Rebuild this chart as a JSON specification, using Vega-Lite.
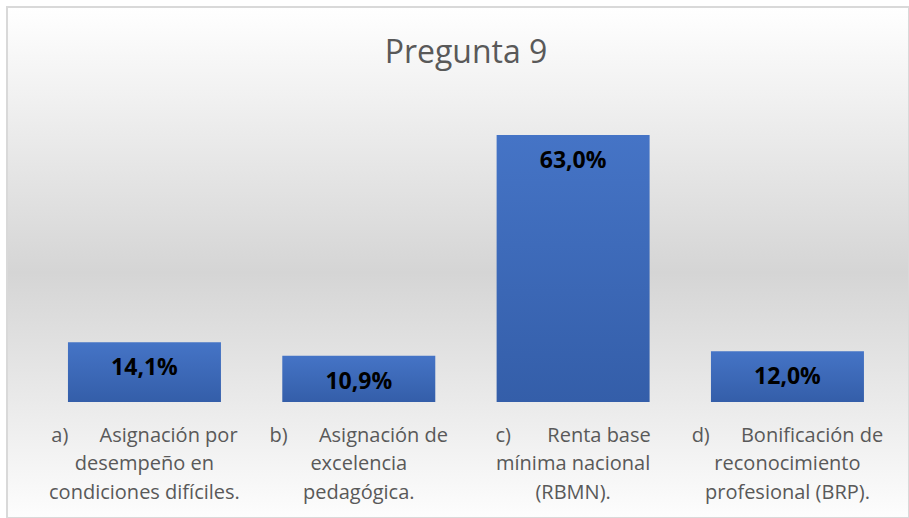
{
  "$schema": "https://vega.github.io/schema/vega-lite/v6.json",
  "autosize": {"type": "none"},
  "padding": {"left": 7, "top": 7, "right": 0, "bottom": 0},
  "width": 902,
  "height": 511,
  "background": "#ffffff",
  "config": {
    "locale": {"number": {"decimal": ",", "thousands": ".", "grouping": [3], "currency": ["", " €"]}},
    "view": {
      "stroke": "#d9d9d9",
      "strokeWidth": 2,
      "fill": {"gradient": "linear", "x1": 0, "y1": 0, "x2": 0, "y2": 1,
        "stops": [{"offset": 0, "color": "#ffffff"}, {"offset": 0.52, "color": "#d5d5d5"}, {"offset": 1, "color": "#fdfdfd"}]}
    },
    "font": "Open Sans"
  },
  "title": {
    "text": "Pregunta 9",
    "fontSize": 32,
    "font": "Open Sans",
    "fontWeight": "normal",
    "color": "#595959",
    "anchor": "middle",
    "baseline": "alphabetic",
    "offset": -88,
    "dx": 8
  },
  "data": {
    "values": [
      {"opcion": "a)\u00a0\u00a0\u00a0\u00a0\u00a0\u00a0Asignación por|desempeño en|condiciones difíciles.", "valor": 0.141},
      {"opcion": "b)\u00a0\u00a0\u00a0\u00a0\u00a0\u00a0Asignación de|excelencia|pedagógica.", "valor": 0.109},
      {"opcion": "c)\u00a0\u00a0\u00a0\u00a0\u00a0\u00a0\u00a0Renta base|mínima nacional|(RBMN).", "valor": 0.63},
      {"opcion": "d)\u00a0\u00a0\u00a0\u00a0\u00a0\u00a0Bonificación de|reconocimiento|profesional (BRP).", "valor": 0.12}
    ]
  },
  "encoding": {
    "x": {
      "field": "opcion",
      "type": "nominal",
      "sort": null,
      "scale": {"paddingInner": 0.2862, "paddingOuter": 0.2473, "align": 0.575},
      "axis": {
        "title": null,
        "orient": "bottom",
        "offset": -93,
        "domain": false,
        "ticks": false,
        "grid": false,
        "labelPadding": 0,
        "labelAngle": 0,
        "labelExpr": "split(datum.label, '|')",
        "labelFont": "Open Sans",
        "labelFontSize": 20,
        "labelColor": "#595959",
        "labelLineHeight": 28.5,
        "labelBaseline": "top",
        "labelLimit": 300,
        "labelOverlap": false
      }
    },
    "y": {
      "field": "valor",
      "type": "quantitative",
      "scale": {"domain": [-0.2737, 0.932], "nice": false, "zero": false},
      "axis": null
    }
  },
  "layer": [
    {
      "mark": {
        "type": "bar",
        "color": {"gradient": "linear", "x1": 0, "y1": 0, "x2": 0, "y2": 1,
          "stops": [{"offset": 0, "color": "#4574c6"}, {"offset": 1, "color": "#345ea9"}]}
      },
      "encoding": {"y2": {"datum": 0}}
    },
    {
      "mark": {"type": "text", "font": "Open Sans", "fontWeight": "bold", "fontSize": 23, "color": "#000000", "baseline": "middle", "align": "center", "dy": 26},
      "encoding": {"text": {"field": "valor", "type": "quantitative", "format": ".1%"}}
    }
  ]
}
